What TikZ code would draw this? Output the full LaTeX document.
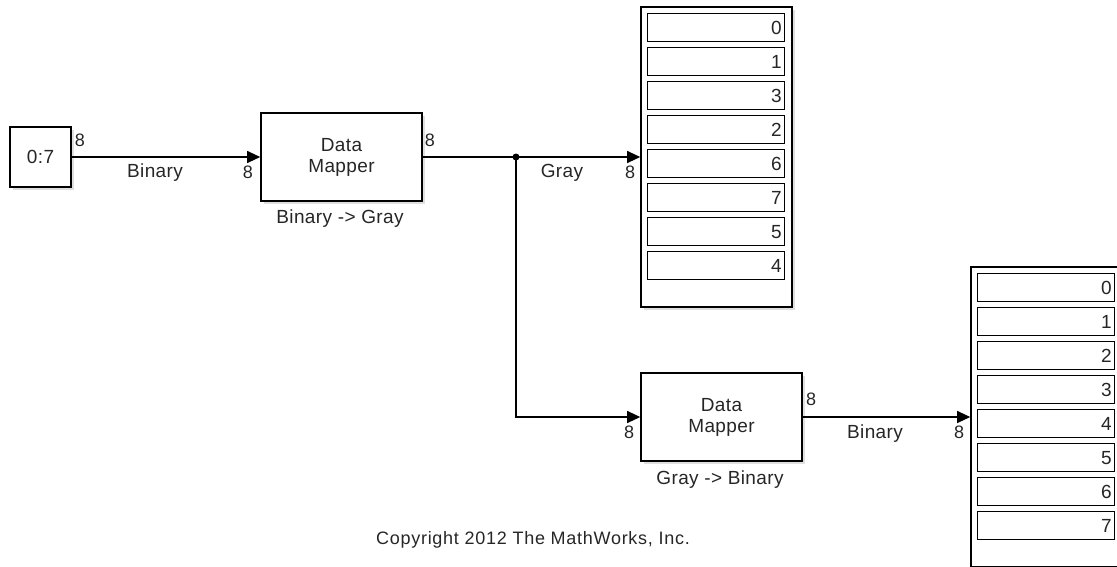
\documentclass[tikz,border=0pt]{standalone}
\usepackage{fontspec}
\setmainfont{Liberation Sans}
\usetikzlibrary{arrows.meta,shadows}

\tikzset{
	blk/.style={draw, line width=1.6pt, fill=white, align=center,
		drop shadow={shadow xshift=3pt, shadow yshift=-3pt, opacity=.25}},
	cell/.style={draw, line width=1.4pt, fill=white, minimum width=136pt, minimum height=28pt,
		anchor=north west, inner sep=3pt, text width=131pt, align=right,
		font=\fontsize{19}{20}\selectfont},
	wire/.style={line width=1.1pt, -{Triangle[length=13pt, width=12pt]}},
	txt/.style={font=\fontsize{19}{21}\addfontfeature{LetterSpace=2}\selectfont, text=black!85, inner sep=0pt},
	port/.style={font=\fontsize{18}{20}\selectfont, text=black!85, inner sep=0pt},
}

\begin{document}
\begin{tikzpicture}[x=1pt, y=-1pt, every node/.append style={font=\fontsize{19}{21}\addfontfeature{LetterSpace=2}\selectfont, text=black!85}]
	\useasboundingbox (0,0) rectangle (1117,566);
	\clip (0,0) rectangle (1117,566);

	% blocks
	\node[blk, minimum width=61pt, minimum height=60pt] (src) at (40.5,157) {0:7};
	\node[blk, minimum width=161pt, minimum height=88pt] (map1) at (341.5,157) {Data\\Mapper};
	\node[blk, minimum width=161pt, minimum height=88pt] (map2) at (721.5,417) {Data\\Mapper};
	\node[blk, minimum width=151pt, minimum height=300pt] (disp1) at (716.5,157) {};
	\node[blk, minimum width=151pt, minimum height=300pt] (disp2) at (1046.5,417) {};

	% display cells
	\foreach \val [count=\i from 0] in {0,1,3,2,6,7,5,4} {
		\node[cell] (c1\i) at (647, 13 + 34*\i) {\val};
	}
	\foreach \val [count=\i from 0] in {0,...,7} {
		\node[cell] (c2\i) at (977, 273 + 34*\i) {\val};
	}

	% wires
	\coordinate (split) at (516,157);
	\draw[wire] (src.east) -- (map1.west);
	\draw[wire] (map1.east) -- (disp1.west);
	\draw[wire] (split) |- (map2.west);
	\draw[wire] (map2.east) -- (disp2.west);
	\fill (split) circle (3.5pt);

	% signal labels
	\node[txt] (l1) at (155,173) {Binary};
	\node[txt] (l2) at (562,173) {Gray};
	\node[txt] (l3) at (875,434) {Binary};
	\node[txt] (n1) at (340,219) {Binary -> Gray};
	\node[txt] (n2) at (720,480) {Gray -> Binary};

	% port widths
	\node[port] (p1) at (80,140) {8};
	\node[port] (p2) at (248,172) {8};
	\node[port] (p3) at (430,140) {8};
	\node[port] (p4) at (630,172) {8};
	\node[port] (p5) at (629,432) {8};
	\node[port] (p6) at (811,399) {8};
	\node[port] (p7) at (959,432) {8};

	\node[txt, font=\fontsize{18}{20}\addfontfeature{LetterSpace=4}\selectfont] (copy) at (533,540) {Copyright 2012 The MathWorks, Inc.};
\end{tikzpicture}
\end{document}
